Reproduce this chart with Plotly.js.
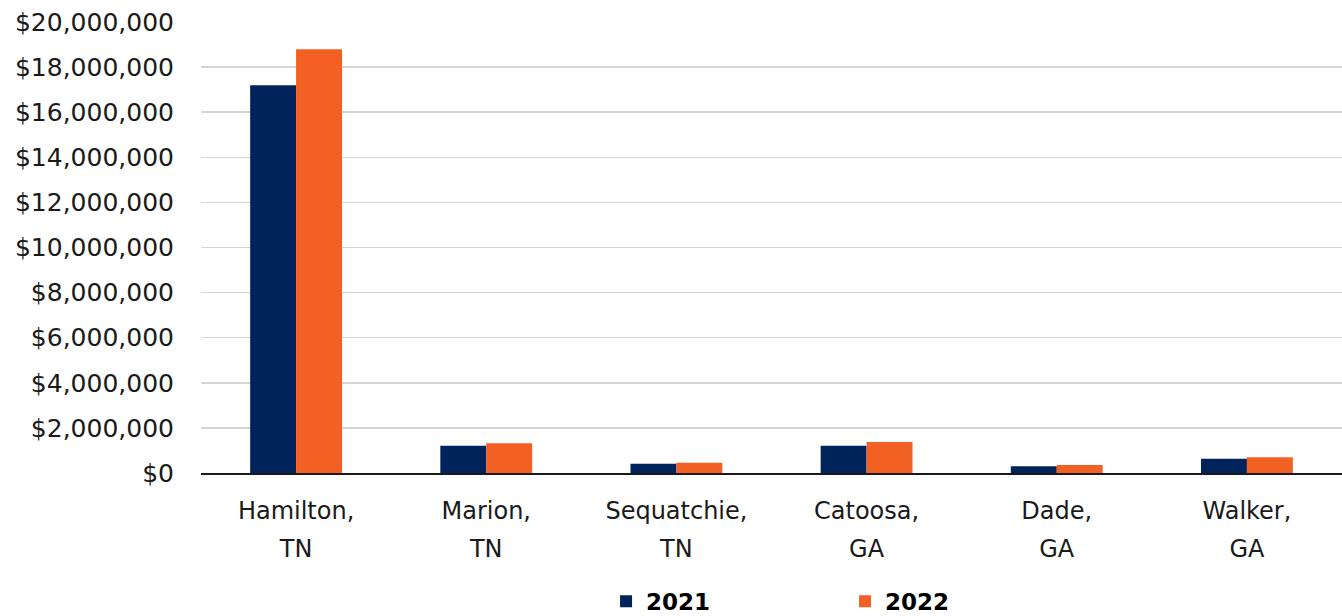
<!DOCTYPE html>
<html><head><meta charset="utf-8">
<script src="https://cdn.plot.ly/plotly-3.0.1.min.js"></script>
<style>html,body{margin:0;padding:0;background:#fff;}#chart{width:1342px;height:616px;}</style>
</head><body><div id="chart"></div>
<script>
const categories = ["Hamilton, TN", "Marion, TN", "Sequatchie, TN", "Catoosa, GA", "Dade, GA", "Walker, GA"];
const categoryLines = [["Hamilton,", "TN"], ["Marion,", "TN"], ["Sequatchie,", "TN"], ["Catoosa,", "GA"], ["Dade,", "GA"], ["Walker,", "GA"]];
const values2021 = [17200000, 1210000, 410000, 1210000, 300000, 630000];
const values2022 = [18790000, 1320000, 460000, 1370000, 350000, 700000];
const tickVals = [0, 2000000, 4000000, 6000000, 8000000, 10000000, 12000000, 14000000, 16000000, 18000000, 20000000];
const tickText = ["$0", "$2,000,000", "$4,000,000", "$6,000,000", "$8,000,000", "$10,000,000", "$12,000,000", "$14,000,000", "$16,000,000", "$18,000,000", "$20,000,000"];

const font = "'DejaVu Sans', sans-serif";
const xTickText = categoryLines.map(l => l.map(s => "<span style='font-size:24px'>" + s + "</span>").join("<br>"));
const traces = [
  {type: 'bar', name: '2021', x: categories, y: values2021, marker: {color: '#00235B'}},
  {type: 'bar', name: '2022', x: categories, y: values2022, marker: {color: '#F26024'}}
];
const layout = {
  width: 1342, height: 616,
  margin: {l: 201, r: 0, t: 22, b: 143},
  paper_bgcolor: '#fff', plot_bgcolor: '#fff',
  barmode: 'group', bargap: 0.517, bargroupgap: 0,
  font: {family: font, size: 23, color: '#000'},
  xaxis: {automargin: false, tickmode: 'array', tickvals: categories, ticktext: xTickText, tickfont: {size: 29, color: '#1a1a1a'}, ticklabelstandoff: 9, showline: true, linecolor: '#1a1a1a', linewidth: 2, ticks: '', showgrid: false},
  yaxis: {automargin: false, range: [0, 20000000], tickvals: tickVals, ticktext: tickText, showgrid: true, gridcolor: '#d4d4d4', gridwidth: 1.5, zeroline: false, showline: false, tickfont: {size: 25, color: '#1a1a1a'}, ticklen: 0, ticks: '', ticklabelstandoff: 26},
  showlegend: true,
  legend: {orientation: 'h', x: 0.355, xanchor: 'left', yref: 'container', y: 0.024, yanchor: 'middle', font: {size: 23, family: font, weight: 'bold', color: '#000'}, entrywidth: 194, traceorder: 'normal'}
};
Plotly.newPlot('chart', traces, layout, {displayModeBar: false, staticPlot: true});
</script></body></html>
